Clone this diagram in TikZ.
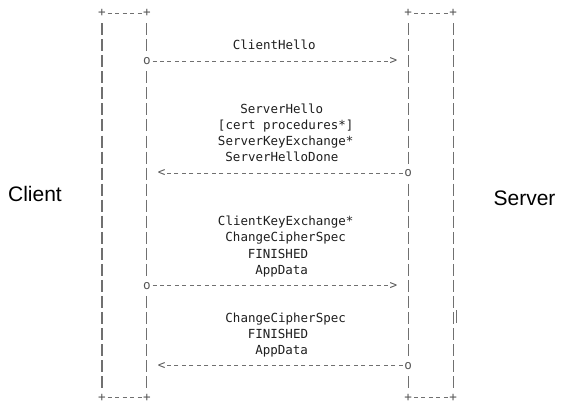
\documentclass[tikz,border=0pt]{standalone}
\usepackage{fontspec}
\newfontfamily\monof{DejaVu Sans Mono}
\newfontfamily\labf{Liberation Sans}
\definecolor{linegray}{RGB}{112,112,112}
\definecolor{glyphgray}{RGB}{85,85,85}
\definecolor{txtgray}{RGB}{30,30,30}
\begin{document}
\begin{tikzpicture}[x=1pt,y=-1pt,
  cell/.style={inner sep=0pt, minimum width=7.47pt, minimum height=16.04pt,
    font=\monof\fontsize{12.6}{15}\selectfont, text=glyphgray},
  endo/.style={cell, fill=white},
  vbar/.style={draw=linegray, line width=1.15pt, dash pattern=on 12pt off 4.04pt, dash phase=14.02pt},
  hdash/.style={draw=linegray, line width=1pt, dash pattern=on 4pt off 3.47pt, dash phase=5.735pt},
  msg/.style={inner sep=0pt, anchor=base west, font=\monof\fontsize{12.5}{15}\selectfont, text=txtgray},
  party/.style={inner sep=0pt, anchor=base, font=\labf\fontsize{21}{25}\selectfont, text=black}
]
\useasboundingbox (0,0) rectangle (568,413);
% box corners
\node[cell] (ltl) at (102,13) {+};
\node[cell] (ltr) at (146.82,13) {+};
\node[cell] (lbl) at (102,397.96) {+};
\node[cell] (lbr) at (146.82,397.96) {+};
\node[cell] (rtl) at (408.27,13) {+};
\node[cell] (rtr) at (453.09,13) {+};
\node[cell] (rbl) at (408.27,397.96) {+};
\node[cell] (rbr) at (453.09,397.96) {+};
% box edges
\path[hdash] (ltl.east) -- (ltr.west);
\path[hdash] (lbl.east) -- (lbr.west);
\path[hdash] (rtl.east) -- (rtr.west);
\path[hdash] (rbl.east) -- (rbr.west);
\path[vbar] (ltl.south) -- (lbl.north);
\path[vbar] (ltr.south) -- (lbr.north);
\path[vbar] (rtl.south) -- (rbl.north);
\path[vbar] (rtr.south) -- (rbr.north);
% stray mark
\coordinate (sa) at (456.6,310);
\coordinate (sb) at (456.6,323);
\draw[linegray, line width=0.9pt] (sa) -- (sb);
% message end points
\node[endo] (c1) at (146.82,61.12) {o};
\node[cell] (h1) at (393.33,61.12) {>};
\node[endo] (s2) at (408.27,173.4) {o};
\node[cell] (h2) at (161.76,173.4) {<};
\node[endo] (c3) at (146.82,285.68) {o};
\node[cell] (h3) at (393.33,285.68) {>};
\node[endo] (s4) at (408.27,365.88) {o};
\node[cell] (h4) at (161.76,365.88) {<};
% messages
\path[hdash] (c1.east) -- (h1.west);
\path[hdash] (s2.west) -- (h2.east);
\path[hdash] (c3.east) -- (h3.west);
\path[hdash] (s4.west) -- (h4.east);
% labels
\node[msg] (m1) at (232.73,49.48) {ClientHello};
\node[msg] (m2a) at (240.2,113.64) {ServerHello};
\node[msg] (m2b) at (217.79,129.68) {[cert procedures*]};
\node[msg] (m2c) at (217.79,145.72) {ServerKeyExchange*};
\node[msg] (m2d) at (225.26,161.76) {ServerHelloDone};
\node[msg] (m3a) at (217.79,225.92) {ClientKeyExchange*};
\node[msg] (m3b) at (225.26,241.96) {ChangeCipherSpec};
\node[msg] (m3c) at (247.67,258.0) {FINISHED};
\node[msg] (m3d) at (255.14,274.04) {AppData};
\node[msg] (m4a) at (225.26,322.16) {ChangeCipherSpec};
\node[msg] (m4b) at (247.67,338.2) {FINISHED};
\node[msg] (m4c) at (255.14,354.24) {AppData};
% parties
\node[party] (client) at (35,201) {Client};
\node[party] (server) at (524.5,205) {Server};
\end{tikzpicture}
\end{document}
